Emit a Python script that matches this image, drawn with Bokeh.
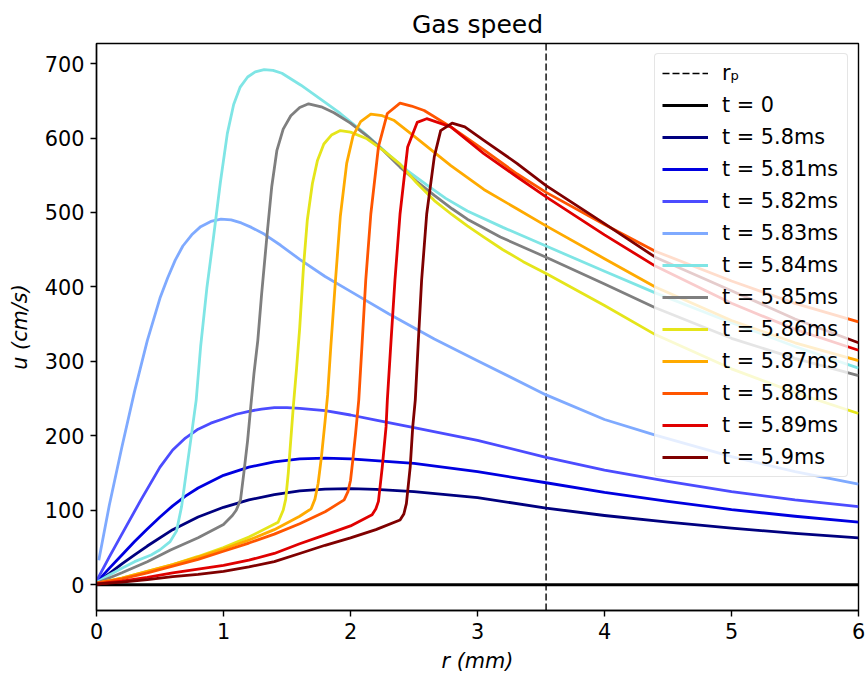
from bokeh.plotting import figure
from bokeh.models import Range1d, FixedTicker, Legend, LegendItem
from bokeh.embed import file_html
from bokeh.resources import INLINE

# ---------------- data ----------------
r_p = 3.54

r_0 = [0.0, 6.0]
u_0 = [0.0, 0.0]

r_580 = [0, 0.1, 0.2, 0.3, 0.4, 0.6, 0.8, 1.0, 1.2, 1.4, 1.6, 1.8, 2.0, 2.2, 2.5, 3.0, 3.54, 4.0, 4.5, 5.0, 5.5, 6.0]
u_580 = [3, 15, 28, 40, 52, 74, 91, 104, 114, 121, 126, 128.5, 129, 128, 125, 117, 103, 93, 84, 76, 69, 63]

r_581 = [0, 0.1, 0.2, 0.3, 0.4, 0.5, 0.6, 0.7, 0.8, 1.0, 1.2, 1.4, 1.6, 1.8, 2.0, 2.5, 3.0, 3.54, 4.0, 4.5, 5.0, 5.5, 6.0]
u_581 = [3, 22, 40, 58, 75, 91, 106, 119, 130, 147, 158, 165, 169, 170, 169, 163, 152, 137, 124, 112, 101, 92, 84]

r_582 = [0, 0.1, 0.2, 0.35, 0.5, 0.6, 0.7, 0.8, 0.9, 1.0, 1.1, 1.2, 1.3, 1.4, 1.5, 1.6, 1.8, 2.0, 2.2, 2.5, 3.0, 3.54, 4.0, 4.5, 5.0, 5.5, 6.0]
u_582 = [5, 37, 68, 114, 158, 181, 197, 209, 217, 223, 229, 233, 236, 238, 238, 237, 234, 228, 221, 211, 194, 171, 154, 139, 125, 114, 105]

r_583 = [0.018, 0.1, 0.2, 0.3, 0.4, 0.5, 0.56, 0.62, 0.68, 0.75, 0.82, 0.9, 0.98, 1.06, 1.14, 1.22, 1.32, 1.45, 1.6, 1.8, 2.0, 2.3, 2.66, 3.0, 3.54, 4.0, 4.4, 5.0, 5.5, 6.0]
u_583 = [33, 106, 185, 260, 328, 385, 412, 436, 455, 470, 481, 488, 491, 490, 486, 480, 471, 456, 437, 414, 394, 364, 330, 301, 255, 222, 201, 172, 152, 135]

r_584 = [0, 0.1, 0.2, 0.3, 0.43, 0.5, 0.58, 0.63, 0.67, 0.71, 0.745, 0.785, 0.82, 0.87, 0.92, 0.975, 1.03, 1.08, 1.13, 1.19, 1.25, 1.32, 1.39, 1.46, 1.61, 1.8, 1.92, 2.1, 2.3, 2.45, 2.6, 2.75, 2.92, 3.2, 3.54, 4.0, 4.4, 5.0, 5.5, 6.0]
u_584 = [3, 13, 22, 31, 40, 47, 58, 72, 105, 155, 198, 248, 320, 400, 465, 540, 606, 645, 668, 682, 689, 692, 691, 687, 671, 648, 633, 608, 578, 556, 537, 519, 502, 480, 455, 421, 392, 352, 320, 291]

r_585 = [0, 0.2, 0.4, 0.583, 0.8, 1.0, 1.07, 1.1, 1.134, 1.16, 1.19, 1.215, 1.24, 1.27, 1.3, 1.344, 1.38, 1.42, 1.47, 1.53, 1.6, 1.67, 1.77, 1.87, 2.0, 2.13, 2.26, 2.39, 2.52, 2.66, 2.8, 2.92, 3.18, 3.54, 4.0, 4.4, 5.0, 5.5, 6.0]
u_585 = [2, 16, 31, 46.6, 63, 81, 93, 100, 114, 150, 194, 240, 284, 328, 390, 472, 535, 583, 612, 630, 641, 646, 642, 634, 620, 603, 583, 561, 542, 523, 505, 491, 467, 440, 404, 372, 331, 304, 281]

r_586 = [0, 0.2, 0.4, 0.6, 0.8, 1.0, 1.2, 1.43, 1.47, 1.49, 1.51, 1.53, 1.55, 1.575, 1.6, 1.63, 1.66, 1.7, 1.74, 1.79, 1.85, 1.92, 2.0, 2.13, 2.26, 2.39, 2.52, 2.66, 2.8, 2.92, 3.05, 3.2, 3.36, 3.54, 4.0, 4.4, 5.0, 5.5, 6.0]
u_586 = [2, 9, 18, 27, 38, 50, 64, 84, 100, 115, 150, 195, 240, 290, 345, 427, 490, 539, 570, 592, 604, 610, 608, 599, 583, 565, 540, 516, 497, 482, 467, 450, 434, 418, 375, 336, 290, 258, 230]

r_587 = [0, 0.2, 0.4, 0.6, 0.8, 1.0, 1.2, 1.4, 1.6, 1.69, 1.72, 1.745, 1.77, 1.8, 1.82, 1.845, 1.88, 1.92, 1.97, 2.02, 2.08, 2.16, 2.25, 2.34, 2.52, 2.79, 3.05, 3.31, 3.54, 4.0, 4.4, 5.0, 5.5, 6.0]
u_587 = [2, 9, 18, 27, 37, 48, 60, 74, 92, 102, 115, 136, 170, 220, 255, 320, 405, 495, 566, 603, 622, 632, 630, 624, 600, 563, 531, 505, 482, 438, 400, 355, 325, 301]

r_588 = [0, 0.2, 0.4, 0.6, 0.8, 1.0, 1.2, 1.4, 1.6, 1.8, 1.95, 1.98, 2.0, 2.02, 2.04, 2.065, 2.09, 2.12, 2.16, 2.22, 2.29, 2.39, 2.48, 2.58, 2.79, 3.05, 3.31, 3.54, 4.0, 4.4, 5.0, 5.5, 6.0]
u_588 = [2, 8, 16, 25, 34, 45, 56, 68, 82, 98, 114, 125, 140, 170, 203, 248, 320, 409, 498, 588, 633, 647, 643, 637, 615, 584, 552, 527, 484, 448, 408, 378, 353]

r_589 = [0, 0.2, 0.4, 0.6, 0.8, 1.0, 1.2, 1.4, 1.6, 1.8, 2.0, 2.17, 2.2, 2.22, 2.25, 2.28, 2.29, 2.32, 2.35, 2.39, 2.45, 2.525, 2.6, 2.79, 3.05, 3.31, 3.54, 4.0, 4.4, 5.0, 5.5, 6.0]
u_589 = [1, 5, 10, 16, 21, 26, 33, 42, 55, 67, 79, 94, 102, 112, 158, 212, 248, 330, 409, 498, 588, 621, 626, 615, 579, 548, 521, 470, 428, 378, 343, 315]

r_590 = [0, 0.2, 0.4, 0.6, 0.8, 1.0, 1.2, 1.4, 1.6, 1.8, 2.0, 2.2, 2.39, 2.42, 2.44, 2.47, 2.49, 2.51, 2.535, 2.56, 2.6, 2.66, 2.71, 2.8, 2.9, 3.05, 3.31, 3.54, 4.0, 4.4, 5.0, 5.5, 6.0]
u_590 = [1, 3.5, 7, 11, 14, 18, 24, 31, 42, 53, 63, 74, 87, 95, 109, 158, 212, 248, 330, 409, 498, 575, 610, 620, 615, 597, 566, 536, 485, 440, 395, 357, 325]

labels = ["t = 5.8ms", "t = 5.81ms", "t = 5.82ms", "t = 5.83ms", "t = 5.84ms", "t = 5.85ms",
          "t = 5.86ms", "t = 5.87ms", "t = 5.88ms", "t = 5.89ms", "t = 5.9ms"]
colors = ["#00007f", "#0000e0", "#4c4cff", "#7faaff", "#7fe5e5", "#7f7f7f",
          "#e5e51a", "#ffaa00", "#ff5500", "#e00000", "#7f0000"]
series_r = [r_580, r_581, r_582, r_583, r_584, r_585, r_586, r_587, r_588, r_589, r_590]
series_u = [u_580, u_581, u_582, u_583, u_584, u_585, u_586, u_587, u_588, u_589, u_590]

x_ticks = [0, 1, 2, 3, 4, 5, 6]
y_ticks = [0, 100, 200, 300, 400, 500, 600, 700]
x_lim = (0, 6)
y_lim = (-34.6, 727)

FONT = "DejaVu Sans"
FS = "20.8px"

p = figure(width=866, height=679, output_backend="svg", toolbar_location=None,
           x_range=Range1d(*x_lim), y_range=Range1d(*y_lim),
           min_border_left=96, min_border_right=8, min_border_top=43, min_border_bottom=69)

p.title.text = "Gas speed"
p.title.align = "center"
p.title.text_font = FONT
p.title.text_font_size = "25px"
p.title.text_font_style = "normal"
p.title.text_color = "black"

p.xgrid.visible = False
p.ygrid.visible = False
p.outline_line_color = "black"
p.outline_line_width = 1.4
p.background_fill_color = "white"
p.border_fill_color = "white"

for ax in (p.xaxis, p.yaxis):
    ax.major_tick_out = 6
    ax.major_tick_in = 0
    ax.minor_tick_out = 0
    ax.minor_tick_in = 0
    ax.major_tick_line_width = 1.4
    ax.axis_line_width = 1.4
    ax.major_label_text_font = FONT
    ax.major_label_text_font_size = FS
    ax.major_label_text_color = "black"
    ax.axis_label_text_font = FONT
    ax.axis_label_text_font_size = FS
    ax.axis_label_text_font_style = "italic"
    ax.axis_label_text_color = "black"
    ax.major_label_standoff = 6

p.xaxis.axis_label_standoff = 7
p.yaxis.axis_label_standoff = 10
p.xaxis.ticker = FixedTicker(ticks=x_ticks)
p.yaxis.ticker = FixedTicker(ticks=y_ticks)
p.xaxis.axis_label = "r (mm)"
p.yaxis.axis_label = "u (cm/s)"

items = []
rp_r = p.line([r_p, r_p], [y_lim[0], y_lim[1]], line_color="black", line_width=1.4, line_dash="7 3")
items.append(LegendItem(label="rₚ", renderers=[rp_r]))
r0 = p.line(r_0, u_0, line_color="black", line_width=2.8)
items.append(LegendItem(label="t = 0", renderers=[r0]))
for rr, uu, c, lab in zip(series_r, series_u, colors, labels):
    g = p.line(rr, uu, line_color=c, line_width=2.8, line_join="round")
    items.append(LegendItem(label=lab, renderers=[g]))

legend = Legend(items=items, location="top_right")
legend.margin = 10
legend.padding = 7
legend.spacing = 8
legend.glyph_width = 46
legend.glyph_height = 24
legend.label_height = 24
legend.label_width = 118
legend.label_standoff = 14
legend.label_text_font = FONT
legend.label_text_font_size = FS
legend.label_text_color = "black"
legend.border_line_color = "#cccccc"
legend.border_line_width = 1.2
legend.background_fill_alpha = 0.8
if "border_radius" in Legend.properties():
    legend.border_radius = 4
p.add_layout(legend)

open("out.html", "w").write(file_html(p, INLINE))
